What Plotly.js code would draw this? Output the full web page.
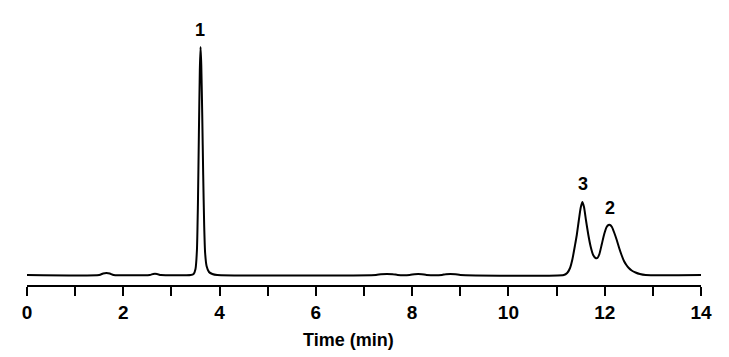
<!DOCTYPE html>
<html>
<head>
<meta charset="utf-8">
<script src="https://cdn.plot.ly/plotly-3.0.1.min.js"></script>
<style>html,body{margin:0;padding:0;background:#fff;}#chart{width:729px;height:357px;}</style>
</head>
<body>
<div id="chart"></div>
<script>
// Retention time (min)
const time = [0, 1.5, 1.58, 1.65, 1.72, 1.8, 2.55, 2.62, 2.7, 2.78,
  3.40, 3.46, 3.50, 3.53, 3.55, 3.57, 3.59, 3.605, 3.62, 3.64, 3.66, 3.68, 3.70, 3.73, 3.78, 3.85, 3.95,
  7.25, 7.35, 7.6, 7.7, 7.95, 8.05, 8.2, 8.3, 8.62, 8.7, 8.9, 9.0,
  11.15, 11.22, 11.28, 11.33, 11.38, 11.42, 11.46, 11.50, 11.535, 11.57, 11.61, 11.66, 11.71, 11.76, 11.81,
  11.85, 11.89, 11.94, 11.99, 12.04, 12.08, 12.11, 12.15, 12.20, 12.25, 12.30, 12.35, 12.40, 12.45, 12.50,
  12.56, 12.64, 12.73, 12.85, 14];
// Detector signal (arbitrary units)
const signal = [0, 0, 1.5, 2, 1.5, 0, 0, 1, 1, 0,
  0, 1, 6, 25, 70, 140, 205, 228, 210, 160, 100, 50, 22, 9, 3, 1, 0,
  0, 0.8, 0.8, 0, 0, 0.8, 0.8, 0, 0, 0.8, 0.8, 0,
  0, 2, 7, 16, 29, 40, 54, 67, 73, 68, 55, 40, 28, 20, 17,
  17, 21, 31, 41, 48, 50, 50, 48, 42, 35, 27, 20, 14, 10, 7,
  4.5, 2.5, 1, 0, 0];
// Peak labels
const peakLabels = ['1', '3', '2'];
const peakTimes = [3.59, 11.54, 12.11];
const peakLabelHeights = [245, 91, 67];
// Axis ticks
const tickVals = [0, 1, 2, 3, 4, 5, 6, 7, 8, 9, 10, 11, 12, 13, 14];
const tickLabels = ['0', '', '2', '', '4', '', '6', '', '8', '', '10', '', '12', '', '14'];
const xTitle = 'Time (min)';

const fontFam = 'Liberation Sans, Arial, sans-serif';

const trace = {
  x: time, y: signal, type: 'scatter', mode: 'lines',
  line: {color: '#000', width: 2, shape: 'spline', smoothing: 0.5},
  hoverinfo: 'skip'
};

const annotations = peakLabels.map((t, i) => ({
  x: peakTimes[i], y: peakLabelHeights[i], xref: 'x', yref: 'y',
  text: t, showarrow: false, xanchor: 'center', yanchor: 'middle',
  font: {family: fontFam, size: 18, color: '#000', weight: 'bold'}
}));
annotations.push({
  x: 0.4777, y: -0.2075, xref: 'paper', yref: 'paper', text: xTitle,
  showarrow: false, xanchor: 'center', yanchor: 'middle',
  font: {family: fontFam, size: 18, color: '#000', weight: 'bold'}
});

const layout = {
  width: 729, height: 357,
  margin: {l: 27, r: 28, t: 20, b: 72},
  paper_bgcolor: '#fff', plot_bgcolor: '#fff',
  showlegend: false,
  xaxis: {
    range: [0, 14], tickmode: 'array', tickvals: tickVals, ticktext: tickLabels,
    ticks: 'outside', ticklen: 9, tickwidth: 2, tickcolor: '#000',
    showline: true, linecolor: '#000', linewidth: 2, showgrid: false, zeroline: false,
    tickfont: {family: fontFam, size: 19, color: '#000', weight: 'bold'},
    fixedrange: true
  },
  yaxis: {
    range: [-10, 255], visible: false, showgrid: false, zeroline: false, fixedrange: true
  },
  annotations: annotations
};

Plotly.newPlot('chart', [trace], layout, {displayModeBar: false, staticPlot: true});
</script>
</body>
</html>
